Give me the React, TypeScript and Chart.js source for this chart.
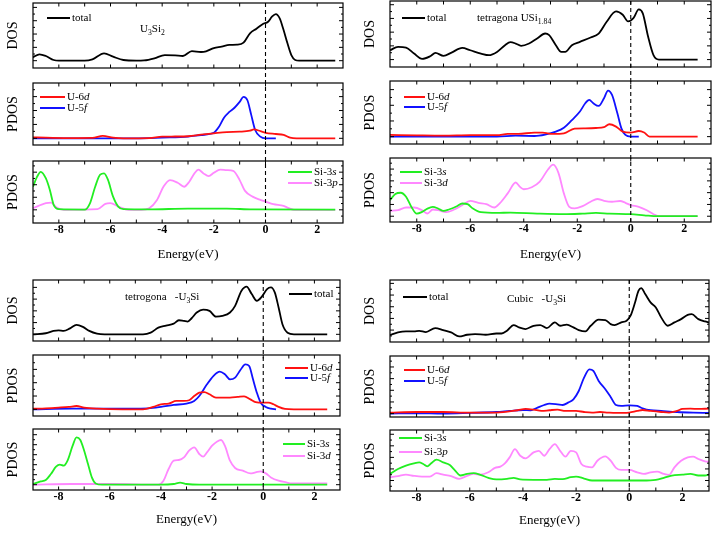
import { useEffect, useRef } from "react";
import { Chart, registerables } from "chart.js";

Chart.register(...registerables);

type Pt = [number, number];
type Seg = { t: string; i?: boolean; sub?: boolean };

const SERIF = '"Liberation Serif", "Times New Roman", serif';

// energy axis tick labels (eV)
const energyTicks = [-8, -6, -4, -2, 0, 2];

// ---------- U3Si2 ----------
const u3si2Total: Pt[] = [
  [-9, 0.25], [-8.75, 0.48], [-8.5, 0.35], [-8.2, 0.05], [-8, 0], [-7, 0], [-6.7, 0.1],
  [-6.25, 0.55], [-5.9, 0.3], [-5.5, 0.05], [-5, 0], [-4.7, 0.02], [-4.3, 0.18], [-3.9, 0.42],
  [-3.5, 0.4], [-3.2, 0.35], [-2.85, 0.72], [-2.5, 0.65], [-2.3, 0.7], [-2, 0.95], [-1.7, 1.05],
  [-1.4, 1.18], [-1.1, 1.2], [-0.85, 1.35], [-0.6, 2.05], [-0.35, 2.4], [-0.1, 2.75], [0.1, 2.92],
  [0.25, 3.3], [0.4, 3.5], [0.55, 3.18], [0.7, 2.3], [0.85, 1.3], [1, 0.42], [1.15, 0.05],
  [1.3, 0], [2.7, 0],
];
const u3si2U6d: Pt[] = [
  [-9, 0.07], [-8.5, 0.05], [-7.5, 0.02], [-6.7, 0.03], [-6.3, 0.17], [-5.9, 0.05], [-5.5, 0],
  [-4.5, 0.02], [-4, 0.12], [-3.5, 0.13], [-3, 0.15], [-2.5, 0.26], [-2, 0.36], [-1.5, 0.45],
  [-1, 0.48], [-0.6, 0.55], [-0.45, 0.64], [-0.2, 0.52], [0, 0.4], [0.4, 0.31], [0.7, 0.24],
  [0.95, 0.05], [1.2, 0], [2.7, 0],
];
const u3si2U5f: Pt[] = [
  [-9, 0], [-5, 0], [-4, 0.05], [-3, 0.12], [-2.5, 0.24], [-2, 0.4], [-1.8, 0.83], [-1.6, 1.5],
  [-1.4, 1.9], [-1.2, 2.2], [-1, 2.62], [-0.85, 2.98], [-0.7, 2.74], [-0.55, 1.67], [-0.4, 0.6],
  [-0.2, 0.12], [0, 0], [0.4, 0],
];
const u3si2Si3s: Pt[] = [
  [-9, 1.84], [-8.85, 2.6], [-8.7, 3.03], [-8.5, 2.5], [-8.35, 1.6], [-8.2, 0.4], [-8, 0.05],
  [-7, 0.02], [-6.8, 0.5], [-6.6, 1.8], [-6.4, 2.8], [-6.25, 2.9], [-6.1, 2.4], [-5.9, 1.05],
  [-5.7, 0.26], [-5.5, 0.05], [-4.5, 0.03], [-3, 0.1], [-1.5, 0.1], [-0.5, 0.03], [2.7, 0.02],
];
const u3si2Si3p: Pt[] = [
  [-9, 0.13], [-8.5, 0.53], [-8.3, 0.58], [-8.1, 0.21], [-7.8, 0], [-6.5, 0.05], [-6.2, 0.47],
  [-6, 0.53], [-5.7, 0.26], [-5.3, 0], [-4.8, 0], [-4.5, 0.13], [-4.2, 0.79], [-3.95, 1.84],
  [-3.7, 2.37], [-3.4, 2.16], [-3.15, 1.84], [-2.95, 2.24], [-2.75, 2.9], [-2.6, 3.2],
  [-2.4, 2.9], [-2.2, 2.68], [-2, 2.95], [-1.75, 3.2], [-1.5, 3.16], [-1.25, 3.1], [-1, 2.37],
  [-0.8, 1.53], [-0.5, 1.05], [-0.2, 0.79], [0, 0.66], [0.3, 0.45], [0.7, 0.32], [0.9, 0.13],
  [1.1, 0], [2.7, 0],
];

// ---------- tetragonal USi1.84 ----------
const usiTotal: Pt[] = [
  [-9, 0.68], [-8.7, 0.93], [-8.4, 0.88], [-8.1, 0.44], [-7.8, 0.05], [-7.5, 0.24], [-7.3, 0.49],
  [-7, 0.27], [-6.7, 0.51], [-6.3, 0.85], [-6, 0.68], [-5.6, 0.44], [-5.3, 0.32], [-5, 0.56],
  [-4.7, 1.05], [-4.5, 1.27], [-4.3, 1.17], [-4.1, 1.0], [-3.8, 1.17], [-3.5, 1.54], [-3.2, 1.9],
  [-3.05, 1.78], [-2.8, 1.05], [-2.6, 0.56], [-2.45, 0.56], [-2.2, 1.05], [-1.9, 1.29],
  [-1.5, 1.61], [-1.2, 1.9], [-0.9, 2.76], [-0.55, 3.51], [-0.3, 3.27], [-0.1, 2.78], [0.1, 3.02],
  [0.3, 3.66], [0.45, 3.37], [0.65, 1.66], [0.85, 0.32], [1.05, 0], [2.5, 0],
];
const usiU6d: Pt[] = [
  [-9, 0.11], [-8, 0.08], [-7, 0.06], [-6, 0.09], [-5, 0.09], [-4.6, 0.17], [-4.2, 0.17],
  [-3.6, 0.26], [-3.3, 0.26], [-2.9, 0.17], [-2.5, 0.21], [-2.1, 0.51], [-1.7, 0.53],
  [-1.3, 0.55], [-1, 0.6], [-0.8, 0.79], [-0.55, 0.64], [-0.3, 0.32], [0, 0.26], [0.3, 0.36],
  [0.5, 0.26], [0.7, 0], [2.5, 0],
];
const usiU5f: Pt[] = [
  [-9, 0], [-5, 0], [-4.3, 0.06], [-3.6, 0.04], [-3.2, 0.13], [-2.8, 0.32], [-2.5, 0.57],
  [-2.2, 1.06], [-1.9, 1.6], [-1.7, 2.13], [-1.55, 2.34], [-1.4, 2.13], [-1.2, 1.96], [-1, 2.45],
  [-0.85, 2.94], [-0.7, 2.66], [-0.5, 1.49], [-0.35, 0.53], [-0.2, 0.11], [0, 0], [0.3, 0],
];
const usiSi3s: Pt[] = [
  [-9, 1.37], [-8.8, 1.88], [-8.6, 1.99], [-8.4, 1.65], [-8.2, 0.79], [-8, 0.22], [-7.8, 0.37],
  [-7.6, 0.65], [-7.4, 0.79], [-7.2, 0.65], [-7, 0.45], [-6.8, 0.57], [-6.5, 0.85], [-6.3, 1.08],
  [-6.1, 1.02], [-5.9, 0.65], [-5.6, 0.34], [-5, 0.28], [-4.5, 0.31], [-3.5, 0.22], [-2.5, 0.17],
  [-1.8, 0.22], [-1.3, 0.28], [-0.8, 0.22], [0, 0.17], [0.5, 0.08], [1, 0], [2.5, 0],
];
const usiSi3d: Pt[] = [
  [-9, 0.46], [-8.7, 0.51], [-8.4, 0.74], [-8.1, 0.74], [-7.8, 0.51], [-7.6, 0.23], [-7.4, 0.57],
  [-7.2, 0.51], [-6.9, 0.34], [-6.6, 0.57], [-6.3, 0.94], [-6, 1.31], [-5.7, 1.14], [-5.4, 1.03],
  [-5.1, 0.74], [-4.9, 1.09], [-4.6, 1.94], [-4.3, 2.86], [-4.15, 2.51], [-4, 2.29], [-3.7, 2.46],
  [-3.4, 2.94], [-3.1, 3.94], [-2.9, 4.37], [-2.7, 3.66], [-2.5, 1.94], [-2.3, 0.8], [-2.1, 0.66],
  [-1.8, 0.86], [-1.5, 1.23], [-1.25, 1.46], [-1, 1.31], [-0.7, 1.23], [-0.4, 1.29], [-0.2, 1.14],
  [0, 0.94], [0.3, 0.8], [0.6, 0.51], [0.85, 0.17], [1.1, 0], [2.5, 0],
];

// ---------- tetragonal U3Si ----------
const tetTotal: Pt[] = [
  [-9, 0], [-8.5, 0.09], [-8.2, 0.29], [-8, 0.34], [-7.8, 0.29], [-7.55, 0.51], [-7.3, 0.8],
  [-7.05, 0.63], [-6.8, 0.29], [-6.5, 0.06], [-6.2, 0], [-4.7, 0], [-4.4, 0.14], [-4.1, 0.57],
  [-3.8, 0.74], [-3.5, 0.91], [-3.3, 1.2], [-3.1, 1.14], [-2.95, 1.09], [-2.8, 1.37], [-2.6, 1.86],
  [-2.35, 2.11], [-2.1, 2.0], [-1.85, 1.51], [-1.6, 1.57], [-1.3, 1.86], [-1.1, 2.43],
  [-0.85, 3.71], [-0.65, 4.06], [-0.45, 3.43], [-0.25, 2.86], [-0.05, 3.23], [0.15, 3.86],
  [0.3, 4.0], [0.45, 3.57], [0.6, 2.29], [0.75, 0.86], [0.95, 0.14], [1.2, 0], [2.5, 0],
];
const tetU6d: Pt[] = [
  [-9, 0.05], [-8.5, 0.08], [-8, 0.13], [-7.6, 0.18], [-7.3, 0.25], [-7, 0.13], [-6.5, 0.05],
  [-5.5, 0], [-4.7, 0], [-4.3, 0.18], [-4, 0.38], [-3.7, 0.43], [-3.4, 0.63], [-3.1, 0.63],
  [-2.9, 0.68], [-2.7, 1.0], [-2.5, 1.25], [-2.3, 1.3], [-2.1, 1.13], [-1.85, 0.88], [-1.6, 0.88],
  [-1.3, 0.88], [-1, 0.93], [-0.75, 0.98], [-0.5, 0.75], [-0.3, 0.55], [0, 0.5], [0.2, 0.5],
  [0.4, 0.38], [0.6, 0.18], [0.85, 0.03], [1.2, 0], [2.5, 0],
];
const tetU5f: Pt[] = [
  [-9, 0], [-7.5, 0.05], [-6, 0.05], [-4.5, 0.08], [-4, 0.18], [-3.5, 0.33], [-3, 0.43],
  [-2.7, 0.63], [-2.5, 1.0], [-2.2, 1.88], [-1.95, 2.5], [-1.7, 2.83], [-1.5, 2.63], [-1.3, 2.25],
  [-1.1, 2.38], [-0.9, 2.93], [-0.7, 3.38], [-0.55, 3.25], [-0.4, 2.25], [-0.25, 1.25],
  [-0.1, 0.5], [0.1, 0.18], [0.3, 0.05], [0.5, 0],
];
const tetSi3s: Pt[] = [
  [-9, 0.07], [-8.7, 0.33], [-8.5, 0.47], [-8.3, 1.07], [-8.1, 1.8], [-7.95, 2.0], [-7.8, 1.9],
  [-7.65, 2.4], [-7.45, 3.9], [-7.3, 4.73], [-7.15, 4.47], [-7, 3.4], [-6.85, 2.07], [-6.7, 0.73],
  [-6.55, 0.13], [-6.3, 0], [-4, 0], [-3.5, 0.07], [-3.25, 0.2], [-3, 0.07], [-2.5, 0], [2.5, 0],
];
const tetSi3d: Pt[] = [
  [-9, 0], [-7.5, 0.07], [-6, 0.07], [-4.1, 0], [-3.9, 0.4], [-3.7, 1.57], [-3.5, 2.4],
  [-3.3, 2.47], [-3.1, 2.73], [-2.9, 3.4], [-2.7, 3.73], [-2.5, 3.07], [-2.35, 2.8], [-2.2, 3.23],
  [-2, 3.9], [-1.8, 4.33], [-1.65, 4.47], [-1.5, 3.9], [-1.3, 2.4], [-1.1, 1.67], [-0.8, 1.4],
  [-0.5, 1.13], [-0.3, 1.23], [-0.1, 1.33], [0.1, 1.13], [0.3, 0.73], [0.6, 0.4], [0.9, 0.23],
  [1.1, 0.13], [2.5, 0.13],
];

// ---------- cubic U3Si ----------
const cubTotal: Pt[] = [
  [-9, 0.57], [-8.7, 0.8], [-8.4, 0.89], [-8.1, 0.89], [-7.9, 0.94], [-7.65, 0.83], [-7.3, 1.17],
  [-7, 1.0], [-6.7, 0.8], [-6.4, 0.46], [-6.1, 0.6], [-5.8, 0.66], [-5.4, 0.6], [-5, 0.71],
  [-4.8, 0.71], [-4.6, 0.94], [-4.35, 1.43], [-4.15, 1.23], [-3.9, 1.09], [-3.6, 1.37],
  [-3.35, 1.43], [-3.1, 1.17], [-2.8, 1.66], [-2.6, 1.37], [-2.35, 1.46], [-2.1, 1.23], [-1.9, 1.0],
  [-1.65, 0.89], [-1.45, 1.37], [-1.15, 1.89], [-0.9, 1.86], [-0.7, 1.51], [-0.55, 1.43],
  [-0.3, 1.66], [-0.1, 1.8], [0.05, 2.23], [0.2, 3.23], [0.35, 4.37], [0.45, 4.6], [0.6, 4.09],
  [0.8, 3.37], [1, 2.94], [1.2, 2.09], [1.45, 1.37], [1.7, 1.66], [1.95, 1.94], [2.2, 2.31],
  [2.35, 2.37], [2.6, 1.94], [2.85, 1.74], [3, 1.66],
];
const cubU6d: Pt[] = [
  [-9, 0.09], [-8, 0.14], [-7, 0.14], [-6, 0.09], [-5, 0.09], [-4.2, 0.29], [-3.9, 0.4],
  [-3.6, 0.34], [-3.3, 0.23], [-3, 0.29], [-2.7, 0.34], [-2.4, 0.23], [-2, 0.23], [-1.7, 0.14],
  [-1.4, 0.09], [-1.1, 0.14], [-0.8, 0.09], [-0.5, 0.06], [-0.2, 0.06], [0, 0.09], [0.3, 0.23],
  [0.5, 0.31], [0.8, 0.23], [1.2, 0.14], [1.5, 0.09], [1.8, 0.23], [2, 0.4], [2.3, 0.43],
  [2.6, 0.4], [3, 0.43],
];
const cubU5f: Pt[] = [
  [-9, 0], [-8, 0.03], [-7, 0], [-6, 0.06], [-5, 0.14], [-4.5, 0.23], [-4, 0.31], [-3.7, 0.29],
  [-3.5, 0.46], [-3.2, 0.74], [-3, 0.86], [-2.7, 0.8], [-2.5, 0.74], [-2.3, 0.94], [-2.1, 1.23],
  [-1.9, 1.94], [-1.7, 3.09], [-1.5, 3.8], [-1.35, 3.66], [-1.15, 2.8], [-0.9, 2.09],
  [-0.7, 1.43], [-0.5, 0.74], [-0.3, 0.66], [0, 0.71], [0.3, 0.66], [0.5, 0.46], [0.8, 0.29],
  [1.2, 0.23], [1.8, 0.14], [2.4, 0.09], [3, 0.06],
];
const cubSi3s: Pt[] = [
  [-9, 0.57], [-8.7, 1.0], [-8.4, 1.29], [-8.1, 1.49], [-7.9, 1.57], [-7.75, 1.43], [-7.6, 1.23],
  [-7.45, 1.49], [-7.25, 1.8], [-7, 1.57], [-6.75, 1.34], [-6.55, 0.86], [-6.35, 0.43],
  [-6.1, 0.57], [-5.85, 0.63], [-5.6, 0.49], [-5.3, 0.23], [-5, 0.09], [-4.6, 0.14],
  [-4.35, 0.23], [-4.1, 0.09], [-3.6, 0.06], [-3.1, 0.06], [-2.8, 0.14], [-2.5, 0.11],
  [-2.2, 0.29], [-2, 0.34], [-1.7, 0.17], [-1.4, 0], [-0.9, 0], [-0.4, 0], [0, 0], [0.5, 0],
  [1, 0.06], [1.3, 0.23], [1.6, 0.43], [2, 0.51], [2.3, 0.57], [2.6, 0.43], [2.85, 0.43],
  [3, 0.51],
];
const cubSi3p: Pt[] = [
  [-9, 0.29], [-8.7, 0.37], [-8.4, 0.51], [-8.1, 0.4], [-7.8, 0.34], [-7.5, 0.34], [-7.25, 0.63],
  [-7, 0.51], [-6.7, 0.37], [-6.4, 0.14], [-6.1, 0.4], [-5.85, 0.57], [-5.6, 0.51], [-5.3, 0.71],
  [-5.05, 1.09], [-4.85, 1.2], [-4.7, 1.43], [-4.5, 2.0], [-4.3, 2.71], [-4.1, 2.14], [-3.9, 1.91],
  [-3.6, 2.43], [-3.4, 2.57], [-3.2, 2.14], [-3, 2.71], [-2.8, 3.14], [-2.6, 2.57], [-2.4, 2.06],
  [-2.2, 2.57], [-2, 2.43], [-1.8, 1.43], [-1.6, 1.2], [-1.4, 1.14], [-1.2, 1.71], [-0.9, 2.09],
  [-0.7, 1.71], [-0.5, 1.09], [-0.3, 0.91], [0, 0.91], [0.3, 0.71], [0.55, 0.57], [0.8, 0.71],
  [1.05, 0.77], [1.3, 0.57], [1.5, 0.49], [1.7, 1.14], [1.95, 1.71], [2.2, 2.0], [2.4, 2.06],
  [2.6, 1.86], [2.85, 1.66], [3, 1.63],
];

const BLACK = "#000000";
const RED = "#ff1111";
const BLUE = "#1111ff";
const GREEN = "#22ee22";
const PINK = "#ff88ff";

type Series = { label: Seg[]; data: Pt[]; color: string };
type Sub = {
  title: string;
  min: number;
  max: number;
  legend: { x1: number; x2: number; y: number; dy: number };
  series: Series[];
};
type PanelCfg = {
  left: number;
  top: number;
  width: number;
  height: number;
  padding: { left: number; right: number; top: number; bottom: number };
  xTitlePad: number;
  heights: number[];
  heading: { segs: Seg[]; x: number; y: number };
  subs: Sub[];
};

const total: Seg[] = [{ t: "total" }];
const u6d: Seg[] = [{ t: "U-6" }, { t: "d", i: true }];
const u5f: Seg[] = [{ t: "U-5" }, { t: "f", i: true }];
const si3s: Seg[] = [{ t: "Si-3" }, { t: "s", i: true }];
const si3p: Seg[] = [{ t: "Si-3" }, { t: "p", i: true }];
const si3d: Seg[] = [{ t: "Si-3" }, { t: "d", i: true }];

const panels: PanelCfg[] = [
  {
    left: 0, top: 0, width: 358, height: 267,
    padding: { left: 4.6, right: 15, top: 3, bottom: 4.2 },
    xTitlePad: 9.8,
    heights: [65, 15, 62, 16, 62],
    heading: { segs: [{ t: "U" }, { t: "3", sub: true }, { t: "Si" }, { t: "2", sub: true }], x: 140, y: 29 },
    subs: [
      { title: "DOS", min: -0.55, max: 4.33, legend: { x1: 47, x2: 70, y: 18, dy: 11 },
        series: [{ label: total, data: u3si2Total, color: BLACK }] },
      { title: "PDOS", min: -0.48, max: 3.98, legend: { x1: 40, x2: 65, y: 97, dy: 11 },
        series: [{ label: u6d, data: u3si2U6d, color: RED }, { label: u5f, data: u3si2U5f, color: BLUE }] },
      { title: "PDOS", min: -1.05, max: 3.89, legend: { x1: 288, x2: 312, y: 172, dy: 11 },
        series: [{ label: si3s, data: u3si2Si3s, color: GREEN }, { label: si3p, data: u3si2Si3p, color: PINK }] },
    ],
  },
  {
    left: 357, top: 0, width: 360, height: 267,
    padding: { left: 4.6, right: 6, top: 1, bottom: 4.2 },
    xTitlePad: 10.8,
    heights: [66, 14, 63, 14, 64],
    heading: { segs: [{ t: "tetragona USi" }, { t: "1.84", sub: true }], x: 120, y: 18 },
    subs: [
      { title: "DOS", min: -0.54, max: 4.27, legend: { x1: 45, x2: 68, y: 18, dy: 11 },
        series: [{ label: total, data: usiTotal, color: BLACK }] },
      { title: "PDOS", min: -0.47, max: 3.55, legend: { x1: 47, x2: 68, y: 97, dy: 10 },
        series: [{ label: u6d, data: usiU6d, color: RED }, { label: u5f, data: usiU5f, color: BLUE }] },
      { title: "PDOS", min: -0.49, max: 4.94, legend: { x1: 43, x2: 65, y: 172, dy: 11 },
        series: [{ label: si3s, data: usiSi3s, color: GREEN }, { label: si3d, data: usiSi3d, color: PINK }] },
    ],
  },
  {
    left: 0, top: 264, width: 358, height: 270,
    padding: { left: 4.6, right: 18, top: 16, bottom: 6.2 },
    xTitlePad: 7.8,
    heights: [61, 14, 61, 13, 61],
    heading: { segs: [{ t: "tetrogona   -U" }, { t: "3", sub: true }, { t: "Si" }], x: 125, y: 33 },
    subs: [
      { title: "DOS", min: -0.57, max: 4.63, legend: { x1: 289, x2: 312, y: 30, dy: 11 },
        series: [{ label: total, data: tetTotal, color: BLACK }] },
      { title: "PDOS", min: -0.5, max: 4.08, legend: { x1: 285, x2: 308, y: 104, dy: 10 },
        series: [{ label: u6d, data: tetU6d, color: RED }, { label: u5f, data: tetU5f, color: BLUE }] },
      { title: "PDOS", min: -0.53, max: 5.57, legend: { x1: 283, x2: 305, y: 180, dy: 12 },
        series: [{ label: si3s, data: tetSi3s, color: GREEN }, { label: si3d, data: tetSi3d, color: PINK }] },
    ],
  },
  {
    left: 357, top: 264, width: 360, height: 270,
    padding: { left: 4.6, right: 8, top: 16, bottom: 5.2 },
    xTitlePad: 7.8,
    heights: [62, 14, 61, 13, 61],
    heading: { segs: [{ t: "Cubic   -U" }, { t: "3", sub: true }, { t: "Si" }], x: 150, y: 35 },
    subs: [
      { title: "DOS", min: -0.02, max: 5.29, legend: { x1: 46, x2: 70, y: 33, dy: 11 },
        series: [{ label: total, data: cubTotal, color: BLACK }] },
      { title: "PDOS", min: -0.29, max: 4.94, legend: { x1: 47, x2: 68, y: 106, dy: 11 },
        series: [{ label: u6d, data: cubU6d, color: RED }, { label: u5f, data: cubU5f, color: BLUE }] },
      { title: "PDOS", min: -0.91, max: 4.37, legend: { x1: 42, x2: 65, y: 174, dy: 14 },
        series: [{ label: si3s, data: cubSi3s, color: GREEN }, { label: si3p, data: cubSi3p, color: PINK }] },
    ],
  },
];

const SUB_IDS = ["s1", "s2", "s3"];

function drawRich(ctx: CanvasRenderingContext2D, segs: Seg[], x: number, y: number, size: number) {
  let cx = x;
  ctx.textBaseline = "middle";
  ctx.textAlign = "left";
  ctx.fillStyle = "#000";
  for (const g of segs) {
    const fs = g.sub ? size * 0.7 : size;
    ctx.font = `${g.i ? "italic " : ""}${fs}px ${SERIF}`;
    ctx.fillText(g.t, cx, g.sub ? y + size * 0.32 : y);
    cx += ctx.measureText(g.t).width;
  }
}

// frames with inward ticks, the Fermi-level dashed line, legends and heading
function overlayPlugin(cfg: PanelCfg) {
  return {
    id: "dosOverlay",
    afterDatasetsDraw(chart: any) {
      const ctx: CanvasRenderingContext2D = chart.ctx;
      const xs = chart.scales.x;
      const L = chart.chartArea.left;
      const R = chart.chartArea.right;
      ctx.save();
      ctx.strokeStyle = "#000";
      SUB_IDS.forEach((id) => {
        const s = chart.scales[id];
        const T = s.top;
        const B = s.bottom;
        ctx.lineWidth = 1.2;
        ctx.setLineDash([]);
        ctx.strokeRect(L, T, R - L, B - T);
        ctx.lineWidth = 1;
        ctx.beginPath();
        for (let e = Math.ceil(xs.min + 0.01); e < xs.max; e++) {
          const px = xs.getPixelForValue(e);
          ctx.moveTo(px, B);
          ctx.lineTo(px, B - 3.5);
          ctx.moveTo(px, T);
          ctx.lineTo(px, T + 3.5);
        }
        for (let k = Math.ceil(s.min * 2); k <= Math.floor(s.max * 2); k++) {
          const py = s.getPixelForValue(k / 2);
          if (py > B - 2 || py < T + 2) continue;
          const len = k % 2 === 0 ? 4 : 2;
          ctx.moveTo(L, py);
          ctx.lineTo(L + len, py);
          ctx.moveTo(R, py);
          ctx.lineTo(R - len, py);
        }
        ctx.stroke();
      });
      // dashed line at E = 0
      const x0 = xs.getPixelForValue(0);
      ctx.beginPath();
      ctx.lineWidth = 1.1;
      ctx.setLineDash([4, 3]);
      ctx.moveTo(x0, chart.scales.s1.top);
      ctx.lineTo(x0, chart.scales.s3.bottom);
      ctx.stroke();
      ctx.setLineDash([]);
      // legends
      cfg.subs.forEach((sub) => {
        sub.series.forEach((s, j) => {
          const y = sub.legend.y + j * sub.legend.dy;
          ctx.beginPath();
          ctx.strokeStyle = s.color;
          ctx.lineWidth = 2;
          ctx.moveTo(sub.legend.x1, y);
          ctx.lineTo(sub.legend.x2, y);
          ctx.stroke();
          drawRich(ctx, s.label, sub.legend.x2 + 2, y, 11);
        });
      });
      drawRich(ctx, cfg.heading.segs, cfg.heading.x, cfg.heading.y, 11);
      ctx.restore();
    },
  };
}

function buildConfig(cfg: PanelCfg): any {
  const datasets: any[] = [];
  cfg.subs.forEach((sub, k) => {
    sub.series.forEach((s) => {
      datasets.push({
        label: s.label.map((g) => g.t).join(""),
        data: s.data.map(([x, y]) => ({ x, y })),
        borderColor: s.color,
        backgroundColor: s.color,
        borderWidth: 1.8,
        pointRadius: 0,
        fill: false,
        cubicInterpolationMode: "monotone",
        xAxisID: "x",
        yAxisID: SUB_IDS[k],
      });
    });
  });

  const yAxis = (sub: Sub, weight: number, stackWeight: number) => ({
    type: "linear",
    axis: "y",
    position: "left",
    stack: "dos",
    stackWeight,
    weight,
    min: sub.min,
    max: sub.max,
    ticks: { display: false },
    grid: { display: false, drawTicks: false },
    border: { display: false },
    title: {
      display: true,
      text: sub.title,
      color: "#000",
      font: { family: SERIF, size: 14 },
      padding: { top: 0, bottom: 11.6 },
    },
  });
  const gap = (weight: number, stackWeight: number) => ({
    type: "linear",
    axis: "y",
    position: "left",
    stack: "dos",
    stackWeight,
    weight,
    display: false,
    min: 0,
    max: 1,
  });
  const h = cfg.heights;

  return {
    type: "line",
    data: { datasets },
    options: {
      animation: false,
      responsive: true,
      maintainAspectRatio: false,
      layout: { padding: cfg.padding },
      plugins: { legend: { display: false }, tooltip: { enabled: false } },
      scales: {
        x: {
          type: "linear",
          position: "bottom",
          min: -9,
          max: 3,
          afterBuildTicks: (scale: any) => {
            scale.ticks = energyTicks.map((v) => ({ value: v }));
          },
          ticks: {
            color: "#000",
            padding: 0,
            maxRotation: 0,
            autoSkip: false,
            font: { family: SERIF, size: 12, weight: "bold" },
          },
          grid: { display: false, drawTicks: false },
          border: { display: false },
          title: {
            display: true,
            text: "Energy(eV)",
            color: "#000",
            font: { family: SERIF, size: 13 },
            padding: { top: cfg.xTitlePad, bottom: 0 },
          },
        },
        s1: yAxis(cfg.subs[0], 5, h[0]),
        g1: gap(4, h[1]),
        s2: yAxis(cfg.subs[1], 3, h[2]),
        g2: gap(2, h[3]),
        s3: yAxis(cfg.subs[2], 1, h[4]),
      },
    },
    plugins: [overlayPlugin(cfg)],
  };
}

function DosPanel({ cfg }: { cfg: PanelCfg }) {
  const chartRef = useRef<HTMLCanvasElement | null>(null);

  useEffect(() => {
    if (!chartRef.current) return;
    const chart = new Chart(chartRef.current, buildConfig(cfg));
    return () => {
      chart.destroy();
    };
  }, [cfg]);

  return (
    <div
      style={{
        position: "absolute",
        left: cfg.left,
        top: cfg.top,
        width: cfg.width,
        height: cfg.height,
      }}
    >
      <canvas ref={chartRef} />
    </div>
  );
}

export default function App() {
  return (
    <div
      style={{
        position: "absolute",
        left: 0,
        top: 0,
        width: 717,
        height: 534,
        background: "#fff",
        overflow: "hidden",
      }}
    >
      {panels.map((p, i) => (
        <DosPanel key={i} cfg={p} />
      ))}
    </div>
  );
}
